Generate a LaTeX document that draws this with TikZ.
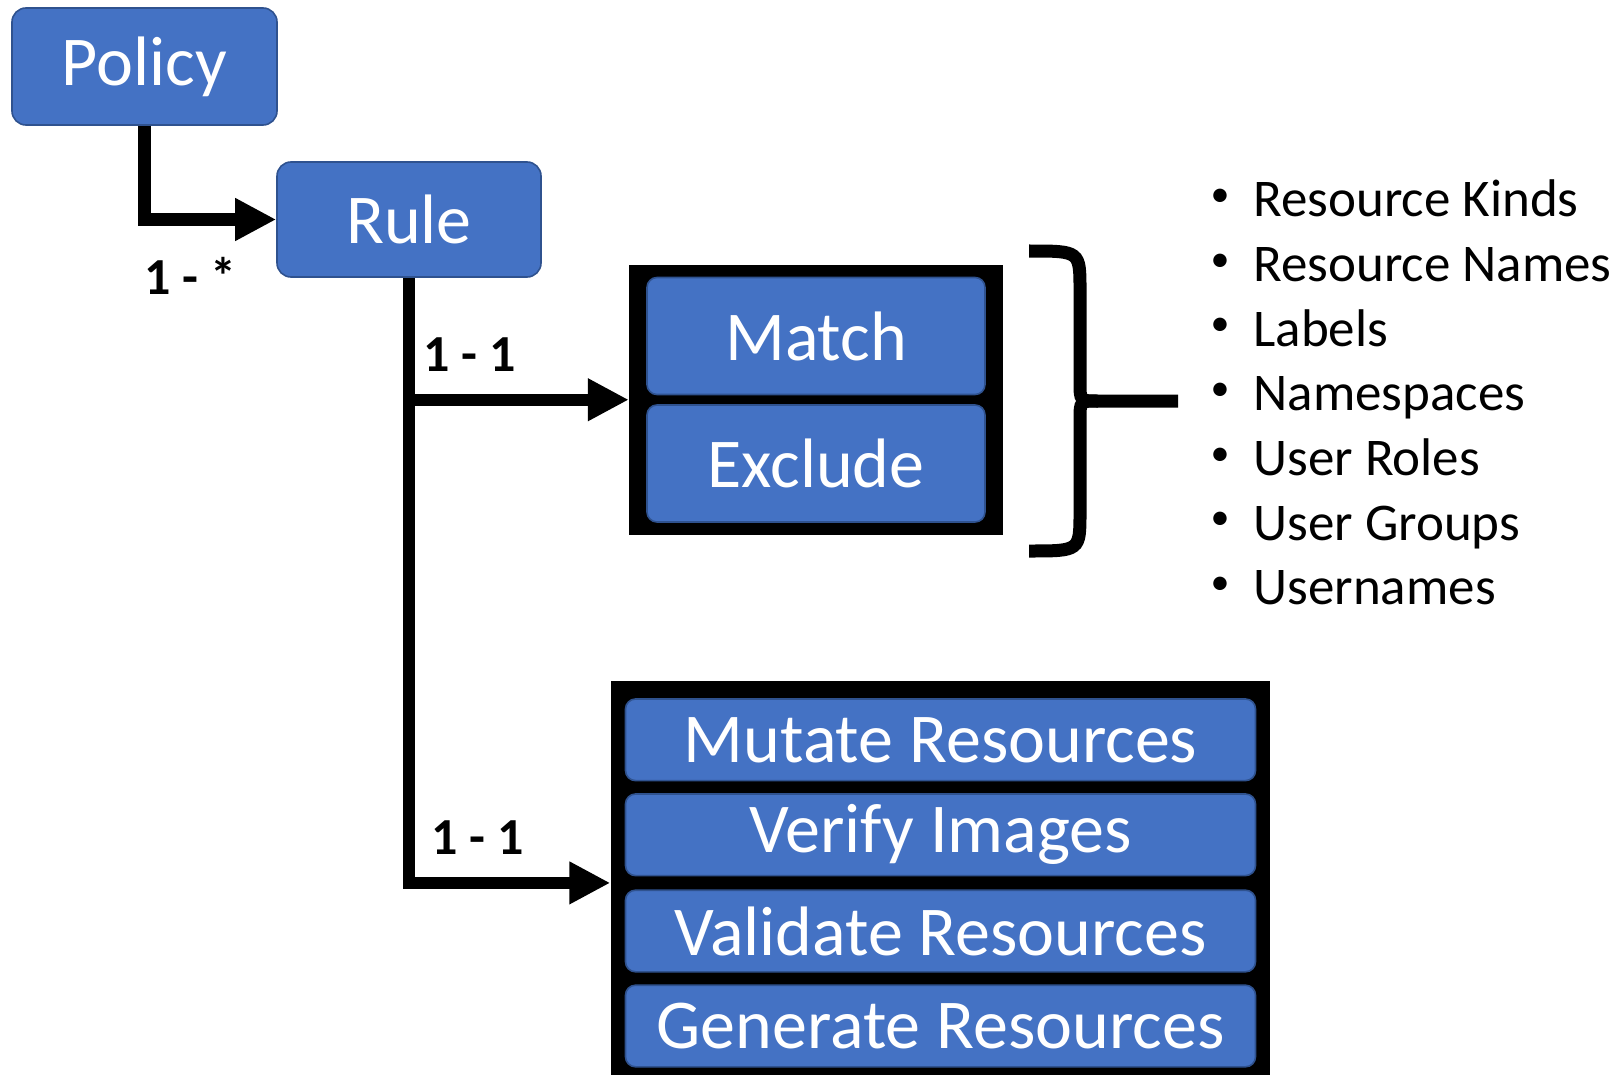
\documentclass[tikz,border=0pt]{standalone}
\usepackage{fontspec}
\setmainfont{Carlito}
\usetikzlibrary{arrows.meta,positioning,calc,fit,backgrounds}
\definecolor{kblue}{HTML}{4472C4}
\definecolor{kedge}{HTML}{2F528F}

\begin{document}
\begin{tikzpicture}[
  x=0.5pt,y=-0.5pt,
  font=\fontsize{35}{42}\selectfont,
  box/.style={draw=kedge,line width=0.8pt,fill=kblue,text=white,rounded corners=7pt,inner sep=0pt,align=center},
  sub/.style={box,rounded corners=5pt,minimum width=169pt,minimum height=58.5pt},
  act/.style={box,rounded corners=5pt,minimum width=315pt,minimum height=40.8pt},
  grp/.style={fill=black,inner xsep=8.5pt,inner ysep=6pt},
  ln/.style={line width=6.2pt},
  ar/.style={ln,-{Triangle[length=20.5pt,width=20pt]}},
  lab/.style={font=\fontsize{26}{30}\selectfont\bfseries,inner sep=0pt},
  item/.style={font=\fontsize{26.5}{32}\selectfont,inner sep=0pt,anchor=base west},
  dot/.style={font=\fontsize{19}{20}\selectfont,inner sep=0pt}
]
\useasboundingbox (0,0) rectangle (1621,1075);

\node[box,minimum width=132.5pt,minimum height=58.5pt] (policy) at (144.5,66.5) {Policy};
\node[box,minimum width=132pt,minimum height=57.5pt] (rule) at (409,219.5) {Rule};

\node[sub] (match) at (816,336) {Match};
\node[sub] (excl)  at (816,463.5) {Exclude};

\node[act] (mut) at (940.5,739.8) {Mutate Resources};
\node[act] (ver) at (940.5,834.8) {Verify Images};
\node[act] (val) at (940.5,931) {Validate Resources};
\node[act] (gen) at (940.5,1026) {Generate Resources};

\begin{scope}[on background layer]
\node[grp,fit=(match)(excl)] (mset) {};
\node[grp,fit=(mut)(gen),inner xsep=7pt,inner ysep=8.5pt] (aset) {};
\end{scope}

\draw[ar] (policy.south) |- node[lab,below=16pt,pos=.675] (many) {1 - *} (rule.west);
\draw[ar] (rule.south) |- node[lab,above=11pt,pos=.67] (onea) {1 - 1} (aset.west);
\draw[ar] (rule.south |- mset.west) -- node[lab,above=11pt,pos=.275] (onem) {1 - 1} (mset.west);

% brace over the match fields
\coordinate (tip) at (1098,401);
\draw[line width=6.5pt] (1029,251) .. controls (1080,251) .. (1080,290) -- (1080,382)
  .. controls (1080,401) .. (tip) -- (1178,401);
\draw[line width=6.5pt] (1029,551) .. controls (1080,551) .. (1080,512) -- (1080,420)
  .. controls (1080,401) .. (tip);

\foreach \t [count=\i from 0] in {Resource Kinds,Resource Names,Labels,Namespaces,User Roles,User Groups,Usernames}{
  \node[item] (it\i) at (1253,217+64.6*\i) {\t};
  \node[dot] (dot\i) at (1220,198+64.6*\i) {\textbullet};
}
\end{tikzpicture}
\end{document}
